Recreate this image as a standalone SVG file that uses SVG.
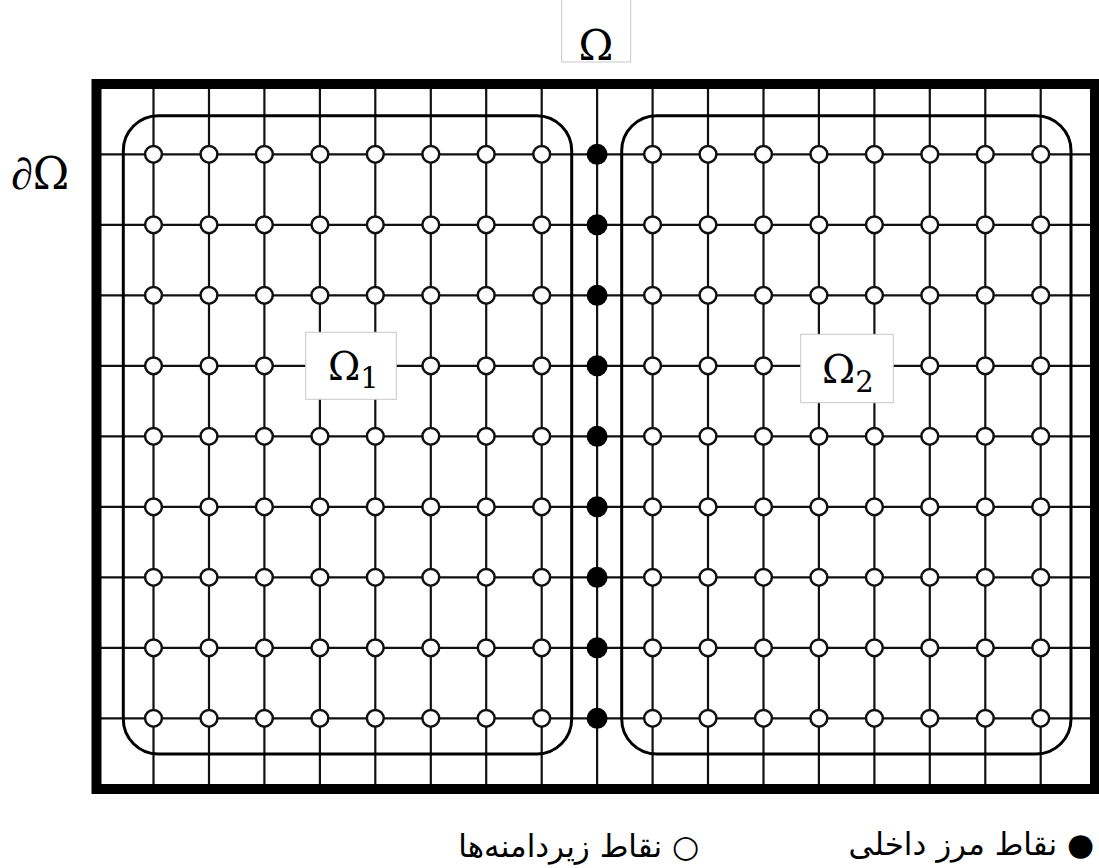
<svg xmlns="http://www.w3.org/2000/svg" xmlns:xlink="http://www.w3.org/1999/xlink" width="1099" height="868" viewBox="0 0 1099 868">
<style>
.grid{fill:none;stroke:#111;stroke-width:2.2}
.frame{fill:none;stroke:#000;stroke-width:10}
.sub{fill:none;stroke:#000;stroke-width:3}
.op{fill:#fff;stroke:#111;stroke-width:2.5}
.fp{fill:#000;stroke:none}
.lbox{fill:#fff;stroke:#c8c8c8;stroke-width:1}
.math{font-family:"DejaVu Serif","Liberation Serif",serif;fill:#000}
.fa{font-family:"DejaVu Sans","Noto Sans",sans-serif;font-size:31px;fill:#000}
</style>
<defs>
<circle id="o" r="8.4" class="op"/>
</defs>
<rect width="1099" height="868" fill="#fff"/>
<g id="connectors">
<path class="grid" d="M153.5 84V789M209 84V789M264.4 84V789M319.9 84V789M375.3 84V789M430.8 84V789M486.2 84V789M541.7 84V789M597.1 84V789M652.6 84V789M708 84V789M763.5 84V789M818.9 84V789M874.4 84V789M929.8 84V789M985.3 84V789M1040.7 84V789"/>
<path class="grid" d="M96.5 154.3H1095M96.5 224.8H1095M96.5 295.3H1095M96.5 365.8H1095M96.5 436.3H1095M96.5 506.8H1095M96.5 577.3H1095M96.5 647.8H1095M96.5 718.3H1095"/>
</g>
<g id="frame">
<rect class="frame" x="96.5" y="84" width="998.5" height="705"/>
</g>
<g id="subdomain-1">
<rect class="sub" x="123.3" y="115.7" width="448.4" height="638.3" rx="35" ry="35"/>
<g id="subdomain-1-points">
<use href="#o" x="153.5" y="154.3"/><use href="#o" x="209" y="154.3"/><use href="#o" x="264.4" y="154.3"/><use href="#o" x="319.9" y="154.3"/><use href="#o" x="375.3" y="154.3"/><use href="#o" x="430.8" y="154.3"/><use href="#o" x="486.2" y="154.3"/><use href="#o" x="541.7" y="154.3"/>
<use href="#o" x="153.5" y="224.8"/><use href="#o" x="209" y="224.8"/><use href="#o" x="264.4" y="224.8"/><use href="#o" x="319.9" y="224.8"/><use href="#o" x="375.3" y="224.8"/><use href="#o" x="430.8" y="224.8"/><use href="#o" x="486.2" y="224.8"/><use href="#o" x="541.7" y="224.8"/>
<use href="#o" x="153.5" y="295.3"/><use href="#o" x="209" y="295.3"/><use href="#o" x="264.4" y="295.3"/><use href="#o" x="319.9" y="295.3"/><use href="#o" x="375.3" y="295.3"/><use href="#o" x="430.8" y="295.3"/><use href="#o" x="486.2" y="295.3"/><use href="#o" x="541.7" y="295.3"/>
<use href="#o" x="153.5" y="365.8"/><use href="#o" x="209" y="365.8"/><use href="#o" x="264.4" y="365.8"/><use href="#o" x="430.8" y="365.8"/><use href="#o" x="486.2" y="365.8"/><use href="#o" x="541.7" y="365.8"/>
<use href="#o" x="153.5" y="436.3"/><use href="#o" x="209" y="436.3"/><use href="#o" x="264.4" y="436.3"/><use href="#o" x="319.9" y="436.3"/><use href="#o" x="375.3" y="436.3"/><use href="#o" x="430.8" y="436.3"/><use href="#o" x="486.2" y="436.3"/><use href="#o" x="541.7" y="436.3"/>
<use href="#o" x="153.5" y="506.8"/><use href="#o" x="209" y="506.8"/><use href="#o" x="264.4" y="506.8"/><use href="#o" x="319.9" y="506.8"/><use href="#o" x="375.3" y="506.8"/><use href="#o" x="430.8" y="506.8"/><use href="#o" x="486.2" y="506.8"/><use href="#o" x="541.7" y="506.8"/>
<use href="#o" x="153.5" y="577.3"/><use href="#o" x="209" y="577.3"/><use href="#o" x="264.4" y="577.3"/><use href="#o" x="319.9" y="577.3"/><use href="#o" x="375.3" y="577.3"/><use href="#o" x="430.8" y="577.3"/><use href="#o" x="486.2" y="577.3"/><use href="#o" x="541.7" y="577.3"/>
<use href="#o" x="153.5" y="647.8"/><use href="#o" x="209" y="647.8"/><use href="#o" x="264.4" y="647.8"/><use href="#o" x="319.9" y="647.8"/><use href="#o" x="375.3" y="647.8"/><use href="#o" x="430.8" y="647.8"/><use href="#o" x="486.2" y="647.8"/><use href="#o" x="541.7" y="647.8"/>
<use href="#o" x="153.5" y="718.3"/><use href="#o" x="209" y="718.3"/><use href="#o" x="264.4" y="718.3"/><use href="#o" x="319.9" y="718.3"/><use href="#o" x="375.3" y="718.3"/><use href="#o" x="430.8" y="718.3"/><use href="#o" x="486.2" y="718.3"/><use href="#o" x="541.7" y="718.3"/>
</g>
</g>
<g id="subdomain-2">
<rect class="sub" x="621.7" y="115.7" width="449.3" height="638.3" rx="35" ry="35"/>
<g id="subdomain-2-points">
<use href="#o" x="652.6" y="154.3"/><use href="#o" x="708" y="154.3"/><use href="#o" x="763.5" y="154.3"/><use href="#o" x="818.9" y="154.3"/><use href="#o" x="874.4" y="154.3"/><use href="#o" x="929.8" y="154.3"/><use href="#o" x="985.3" y="154.3"/><use href="#o" x="1040.7" y="154.3"/>
<use href="#o" x="652.6" y="224.8"/><use href="#o" x="708" y="224.8"/><use href="#o" x="763.5" y="224.8"/><use href="#o" x="818.9" y="224.8"/><use href="#o" x="874.4" y="224.8"/><use href="#o" x="929.8" y="224.8"/><use href="#o" x="985.3" y="224.8"/><use href="#o" x="1040.7" y="224.8"/>
<use href="#o" x="652.6" y="295.3"/><use href="#o" x="708" y="295.3"/><use href="#o" x="763.5" y="295.3"/><use href="#o" x="818.9" y="295.3"/><use href="#o" x="874.4" y="295.3"/><use href="#o" x="929.8" y="295.3"/><use href="#o" x="985.3" y="295.3"/><use href="#o" x="1040.7" y="295.3"/>
<use href="#o" x="652.6" y="365.8"/><use href="#o" x="708" y="365.8"/><use href="#o" x="763.5" y="365.8"/><use href="#o" x="929.8" y="365.8"/><use href="#o" x="985.3" y="365.8"/><use href="#o" x="1040.7" y="365.8"/>
<use href="#o" x="652.6" y="436.3"/><use href="#o" x="708" y="436.3"/><use href="#o" x="763.5" y="436.3"/><use href="#o" x="818.9" y="436.3"/><use href="#o" x="874.4" y="436.3"/><use href="#o" x="929.8" y="436.3"/><use href="#o" x="985.3" y="436.3"/><use href="#o" x="1040.7" y="436.3"/>
<use href="#o" x="652.6" y="506.8"/><use href="#o" x="708" y="506.8"/><use href="#o" x="763.5" y="506.8"/><use href="#o" x="818.9" y="506.8"/><use href="#o" x="874.4" y="506.8"/><use href="#o" x="929.8" y="506.8"/><use href="#o" x="985.3" y="506.8"/><use href="#o" x="1040.7" y="506.8"/>
<use href="#o" x="652.6" y="577.3"/><use href="#o" x="708" y="577.3"/><use href="#o" x="763.5" y="577.3"/><use href="#o" x="818.9" y="577.3"/><use href="#o" x="874.4" y="577.3"/><use href="#o" x="929.8" y="577.3"/><use href="#o" x="985.3" y="577.3"/><use href="#o" x="1040.7" y="577.3"/>
<use href="#o" x="652.6" y="647.8"/><use href="#o" x="708" y="647.8"/><use href="#o" x="763.5" y="647.8"/><use href="#o" x="818.9" y="647.8"/><use href="#o" x="874.4" y="647.8"/><use href="#o" x="929.8" y="647.8"/><use href="#o" x="985.3" y="647.8"/><use href="#o" x="1040.7" y="647.8"/>
<use href="#o" x="652.6" y="718.3"/><use href="#o" x="708" y="718.3"/><use href="#o" x="763.5" y="718.3"/><use href="#o" x="818.9" y="718.3"/><use href="#o" x="874.4" y="718.3"/><use href="#o" x="929.8" y="718.3"/><use href="#o" x="985.3" y="718.3"/><use href="#o" x="1040.7" y="718.3"/>
</g>
</g>
<g id="interface-points">
<circle class="fp" cx="597.1" cy="154.3" r="10.5"/><circle class="fp" cx="597.1" cy="224.8" r="10.5"/><circle class="fp" cx="597.1" cy="295.3" r="10.5"/><circle class="fp" cx="597.1" cy="365.8" r="10.5"/><circle class="fp" cx="597.1" cy="436.3" r="10.5"/><circle class="fp" cx="597.1" cy="506.8" r="10.5"/><circle class="fp" cx="597.1" cy="577.3" r="10.5"/><circle class="fp" cx="597.1" cy="647.8" r="10.5"/><circle class="fp" cx="597.1" cy="718.3" r="10.5"/>
</g>
<g id="label-omega">
<rect class="lbox" x="561.7" y="-5" width="69" height="67"/>
<text class="math" x="596" y="60" font-size="42" text-anchor="middle">Ω</text>
</g>
<g id="label-omega-1">
<rect class="lbox" x="305.7" y="332.3" width="90.6" height="67"/>
<text class="math" x="328" y="380" font-size="39">Ω<tspan font-size="29" dy="8">1</tspan></text>
</g>
<g id="label-omega-2">
<rect class="lbox" x="800.7" y="334.3" width="92.6" height="68.4"/>
<text class="math" x="822" y="383.3" font-size="40">Ω<tspan font-size="29" dy="8.4">2</tspan></text>
</g>
<g id="label-boundary">
<text class="math" x="11" y="189" font-size="44"><tspan font-family="Liberation Serif, serif" font-style="italic">∂</tspan>Ω</text>
</g>
<g id="legend">
<text class="fa" x="1094" y="855" direction="rtl" text-anchor="start">● نقاط مرز داخلی</text>
<text class="fa" x="699" y="857" direction="rtl" text-anchor="start">○ نقاط زیردامنه‌ها</text>
</g>
</svg>
